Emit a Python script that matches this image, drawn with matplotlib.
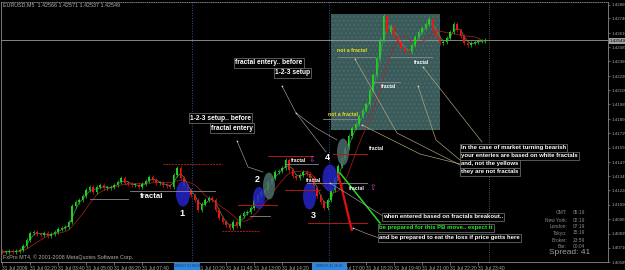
import numpy as np
import pandas as pd
import matplotlib
matplotlib.use("Agg")
import matplotlib.pyplot as plt
from matplotlib.patches import Ellipse, Rectangle

# ---------------- data ----------------
closes = [
    1.40674, 1.40674, 1.40683, 1.40674, 1.40683, 1.40692, 1.40727, 1.40780, 1.40842, 1.40851,
    1.40833, 1.40824, 1.40842, 1.40815, 1.40833, 1.40851, 1.40877, 1.40886, 1.40895, 1.40939,
    1.41081, 1.41116, 1.41134, 1.41169, 1.41223, 1.41249, 1.41205, 1.41249, 1.41267, 1.41240,
    1.41240, 1.41249, 1.41267, 1.41293, 1.41329, 1.41284, 1.41276, 1.41267, 1.41267, 1.41249,
    1.41276, 1.41302, 1.41338, 1.41311, 1.41284, 1.41284, 1.41267, 1.41258, 1.41249, 1.41355,
    1.41417, 1.41329, 1.41258, 1.41223, 1.41178, 1.41134, 1.41046, 1.41099, 1.41134, 1.41152,
    1.41134, 1.41046, 1.40975, 1.40939, 1.40913, 1.40886, 1.40939, 1.40904, 1.40992, 1.41019,
    1.41028, 1.41063, 1.41134, 1.41178, 1.41205, 1.41223, 1.41293, 1.41329, 1.41382, 1.41391,
    1.41417, 1.41488, 1.41400, 1.41346, 1.41329, 1.41355, 1.41382, 1.41364, 1.41329, 1.41240,
    1.41169, 1.41116, 1.41063, 1.41134, 1.41223, 1.41329, 1.41435, 1.41506, 1.41594, 1.41700,
    1.41771, 1.41807, 1.41877, 1.41931, 1.41984, 1.42108, 1.42240, 1.42391, 1.42550, 1.42762,
    1.42621, 1.42665, 1.42585, 1.42532, 1.42479, 1.42453, 1.42444, 1.42506, 1.42577, 1.42621,
    1.42656, 1.42692, 1.42736, 1.42639, 1.42577, 1.42524, 1.42532, 1.42568, 1.42621, 1.42692,
    1.42639, 1.42585, 1.42524, 1.42506, 1.42524, 1.42532, 1.42541, 1.42541, 1.42549,
]
first_open = 1.40680
current_price = 1.42549

price_ticks = [1.42860, 1.42740, 1.42610, 1.42485, 1.42360, 1.42230, 1.42105, 1.41980,
               1.41850, 1.41725, 1.41595, 1.41470, 1.41345, 1.41220, 1.41090, 1.40965,
               1.40835, 1.40710, 1.40585]
time_bars = [0, 8, 16, 24, 32, 40, 56, 64, 72, 80, 96, 104, 112, 120, 128, 136]
time_labels = ["31 Jul 2009", "31 Jul 02:20", "31 Jul 03:40", "31 Jul 05:00", "31 Jul 06:20",
               "31 Jul 07:40", "31 Jul 10:20", "31 Jul 11:40", "31 Jul 13:00", "31 Jul 14:20",
               "31 Jul 17:00", "31 Jul 18:20", "31 Jul 19:40", "31 Jul 21:00", "31 Jul 22:20",
               "31 Jul 23:40"]

info_names = ["GMT:", "New York:", "London:", "Tokyo:", "Broker:", "Bar:"]
info_values = ["05:19", "02:19", "07:19", "15:19", "23:59", "00:04"]
header = "EURUSD,M5  1.42566 1.42571 1.42537 1.42549"

# ---------------- figure ----------------
W, H = 625, 270
fig = plt.figure(figsize=(W / 100, H / 100), dpi=100, facecolor="black")
ax = fig.add_axes([1 / W, 8 / H, 607 / W, 260 / H])
ax.set_facecolor("black")
ax.set_xlim(-0.2857, 173.14)
ax.set_ylim(1.405853, 1.42886)

FONT = "Liberation Sans"
grey = "#a8a8a8"

for s in ax.spines.values():
    s.set_color("#8a8a8a")
    s.set_linewidth(0.6)
ax.spines["top"].set_linestyle(":")

ax.yaxis.tick_right()
ax.set_yticks(price_ticks)
ax.set_yticklabels([f"{p:.5f}" for p in price_ticks], fontsize=3.2, color=grey, family=FONT)
ax.tick_params(axis="y", colors="#8a8a8a", length=1.5, width=0.5, pad=1.0, labelcolor=grey)
ax.set_xticks(time_bars)
ax.set_xticklabels(time_labels, fontsize=3.5, color=grey, family=FONT)
ax.tick_params(axis="x", colors="#8a8a8a", length=2, width=0.5, pad=1.2, labelcolor=grey)
for lbl in ax.get_xticklabels():
    lbl.set_ha("left")

# overlay in pixel coordinates
ov = fig.add_axes([0, 0, 1, 1], zorder=5)
ov.set_xlim(0, W)
ov.set_ylim(H, 0)
ov.axis("off")
ov.patch.set_alpha(0)

# background teal box
ax.add_patch(Rectangle((331, 14), 109, 116, transform=ov.transData, facecolor="#3a5a5a",
                       edgecolor="#48696a", hatch="....", linewidth=0, zorder=0.5))
# vertical separators and current price line
ax.plot([192, 192], [2, 262], transform=ov.transData, color="#3050a0", lw=0.7, ls=":", zorder=0.6)
ax.plot([329, 329], [2, 262], transform=ov.transData, color="#3050a0", lw=0.7, ls=":", zorder=0.6)
ax.plot([489, 489], [2, 262], transform=ov.transData, color="#707070", lw=0.6, ls=":", zorder=0.6)
ax.axhline(current_price, color="#9a9a9a", lw=0.6, zorder=0.7)

# ---------------- candles ----------------
c = np.array(closes)
o = np.r_[first_open, c[:-1]]
x = np.arange(len(c))
up = c >= o
cols = np.where(up, "#1ed21e", "#ee1515")
wick = 0.00018
hi = np.maximum(o, c) + wick
lo = np.minimum(o, c) - wick
ax.vlines(x, lo, hi, colors=cols, lw=0.5, zorder=2)
body = np.maximum(np.abs(c - o), 0.00005)
ax.bar(x, body, bottom=np.minimum(o, c), width=0.55, color=cols, linewidth=0, zorder=2.1)

s = pd.Series(c)
ax.plot(x, s.rolling(3, min_periods=1).mean(), color="#4a9a6a", lw=0.5, zorder=1.8)
ax.plot(x, s.rolling(8, min_periods=1).mean(), color="#b02020", lw=0.5, zorder=1.8)

# ---------------- overlay drawings ----------------
for (cx, cy, w, h, fc) in [(183, 194, 14, 25, "#2424c8"), (259, 198, 12, 22, "#2424c8"),
                           (269, 186, 12, 27, "#4c6a6a"), (309.5, 196, 13, 27, "#2424c8"),
                           (330, 178, 15, 27, "#2424c8"), (343, 152, 12, 27, "#4c6a6a")]:
    ov.add_patch(Ellipse((cx, cy), w, h, facecolor=fc, edgecolor="none", alpha=0.85))

red = "#b01818"
for (x0, x1, y, ls) in [(163, 222, 164, "--"), (268, 313, 156, "-"), (285, 320, 190, "-"),
                        (238, 277, 205, "-"), (222, 260, 231, "--"), (308, 367, 223, "-"),
                        (333, 367, 154, "-")]:
    ov.plot([x0, x1], [y, y], color=red, lw=0.7, ls=ls, dashes=(2, 1) if ls == "--" else (None, None))
for (x0, x1, y) in [(90, 128, 199), (130, 215, 191), (285, 318, 164), (307, 367, 183),
                    (250, 270, 216), (338, 375, 57), (373, 400, 82), (390, 432, 57),
                    (323, 360, 119)]:
    ov.plot([x0, x1], [y, y], color="#8a8a8a", lw=0.6)

ov.plot([338, 352], [173, 231], color="#e01010", lw=1.6, solid_capstyle="butt")
ov.plot([340, 380], [173, 223], color="#22dd22", lw=1.1)

lead = "#a0a0a0"
beige = "#b8aa80"
for pts, col in [([(282, 86), (296, 113), (326, 152)], lead),
                 ([(296, 113), (316, 128), (337, 140)], lead),
                 ([(237, 141), (248, 167), (263, 172)], lead),
                 ([(330, 183), (383, 216)], lead),
                 ([(353, 228), (365, 233), (379, 238)], lead),
                 ([(355, 59), (397, 133), (460, 165)], beige),
                 ([(362, 125), (420, 154), (460, 164)], beige),
                 ([(423, 67), (482, 142)], beige),
                 ([(418, 86), (436, 140), (460, 160)], beige)]:
    xs, ys = zip(*pts)
    ov.plot(xs, ys, color=col, lw=0.45)
    ov.plot(xs[:1], ys[:1], "o", ms=1.2, color="#d0d0d0", mec="none")

for t, px, py in [("1", 182, 213), ("2", 257, 179), ("3", 313, 215), ("4", 327, 157)]:
    ov.text(px, py, t, color="white", fontsize=6.5, fontweight="bold", family=FONT,
            ha="center", va="center")

for px, py, fs in [(152, 197, 5.6), (299, 160, 3.6), (314, 181, 3.6), (357, 189, 3.8),
                   (377, 149, 3.6), (389, 87, 3.6), (422, 63, 3.6)]:
    ov.text(px, py, "fractal", color="white", fontsize=fs, fontweight="bold", family=FONT,
            ha="center", va="center")
for px, py in [(352, 51), (343, 114)]:
    ov.text(px, py, "not a fractal", color="#e8e020", fontsize=3.8, fontweight="bold",
            family=FONT, ha="center", va="center")
ov.text(312, 160, "\u21e9", color="#d040d0", fontsize=5.5, family="DejaVu Sans", ha="center", va="center")
ov.text(373, 188, "\u21e7", color="#d040d0", fontsize=5.5, family="DejaVu Sans", ha="center", va="center")

def box(px, py, txt, fs, color="white"):
    ov.text(px, py, txt, color=color, fontsize=fs, fontweight="bold", family=FONT,
            ha="left", va="center",
            bbox=dict(boxstyle="square,pad=0.2", facecolor="black", edgecolor="#7a7a7a", lw=0.5))

box(190, 118, "1-2-3 setup.. before", 4.8)
box(211, 128, "fractal entery", 4.8)
box(235, 63, "fractal entery.. before", 4.8)
box(275, 73, "1-2-3 setup", 4.8)
box(383, 217, "when entered based on fractals breakout..", 4.3)
box(379, 228, "be prepared for this PB move.. expect it", 4.3, color="#22ee22")
box(379, 238, "and be prepared to eat the loss if price getts here", 4.3)
box(461, 148, "In the case of market turning bearish", 4.3)
box(461, 156, "your enteries are based on white fractals", 4.3)
box(461, 164, "and, not the yellows", 4.3)
box(461, 172, "they are not fractals", 4.3)

for i, (n, v) in enumerate(zip(info_names, info_values)):
    yy = [213, 220, 226, 233, 240, 246][i]
    ov.text(567, yy, n, color="#8a8a8a", fontsize=3.5, family=FONT, ha="right", va="center")
    ov.text(573, yy, v, color="#8a8a8a", fontsize=3.5, family=FONT, ha="left", va="center")
ov.text(549, 252, "Spread: 41", color="#a0a0a0", fontsize=6, family=FONT, ha="left", va="center")

ov.text(3, 4.5, header, color="#b0b0b0", fontsize=3.9, family=FONT, ha="left", va="center")
ov.text(3, 257, "FxPro MT4, \u00a9 2001-2008 MetaQuotes Software Corp.", color="#b0b0b0",
        fontsize=3.9, family=FONT, ha="left", va="center")

for (x0, w, txt) in [(174, 26, "2009.07.31 09:45"), (312, 35, "2009.07.31 16:25")]:
    ov.add_patch(Rectangle((x0, 262.5), w, 7, facecolor="#2a88e0", edgecolor="none"))
    ov.text(x0 + w / 2, 266, txt, color="#10306a", fontsize=2.4, family=FONT, ha="center", va="center")

ov.text(610, 41, f"{current_price:.5f}", color="black", fontsize=3.2, family=FONT, ha="left",
        va="center", bbox=dict(boxstyle="square,pad=0.15", facecolor="#a0a0a0", edgecolor="none"))

fig.savefig("out.png", dpi=100, facecolor="black")
